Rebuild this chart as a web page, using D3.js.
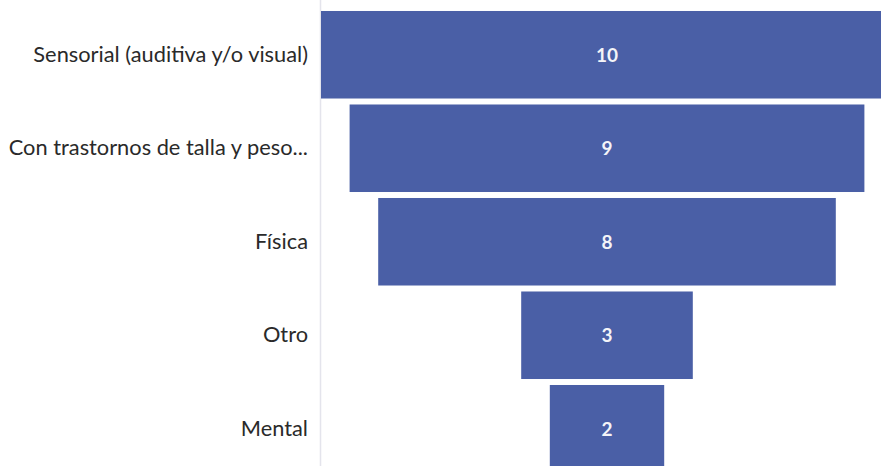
<!DOCTYPE html>
<html>
<head>
<meta charset="utf-8">
<script src="https://cdn.jsdelivr.net/npm/d3@7/dist/d3.min.js"></script>
<style>
  html, body { margin: 0; padding: 0; background: #ffffff; }
  svg { display: block; }
</style>
</head>
<body>
<svg id="chart" width="881" height="466"></svg>
<script>
const categories = [
  "Sensorial (auditiva y/o visual)",
  "Con trastornos de talla y peso...",
  "Física",
  "Otro",
  "Mental"
];
const values = [10, 9, 8, 3, 2];

const W = 881, H = 466;
const svg = d3.select("#chart");

const centerX = 607;
const unit = 57.2;
const maxV = d3.max(values);

// width scale: value -> bar width
const wScale = d3.scaleLinear().domain([0, maxV]).range([0, maxV * unit]);
const axisX = centerX - wScale(maxV) / 2;

const y = d3.scaleBand()
  .domain(categories)
  .range([8, 475.5])
  .paddingInner(0.064)
  .paddingOuter(0.032);

// faint vertical axis line
svg.append("line")
  .attr("x1", axisX - 0.5).attr("x2", axisX - 0.5)
  .attr("y1", 0).attr("y2", H)
  .attr("stroke", "#e4e4ec").attr("stroke-width", 1.5);

const data = categories.map((c, i) => ({ c, v: values[i] }));

svg.selectAll("rect.bar")
  .data(data)
  .join("rect")
  .attr("class", "bar")
  .attr("x", d => centerX - wScale(d.v) / 2)
  .attr("y", d => y(d.c))
  .attr("width", d => wScale(d.v))
  .attr("height", y.bandwidth())
  .attr("fill", "#4a5fa6");

svg.selectAll("text.val")
  .data(data)
  .join("text")
  .attr("class", "val")
  .attr("x", centerX)
  .attr("y", d => y(d.c) + y.bandwidth() / 2)
  .attr("dy", "0.38em")
  .attr("text-anchor", "middle")
  .attr("font-family", "Lato, 'Open Sans', sans-serif")
  .attr("font-weight", "bold")
  .attr("font-size", 19)
  .attr("fill", "#f4f4f8")
  .text(d => d.v);

// category axis labels
const yAxis = d3.axisLeft(y).tickSize(0).tickPadding(13);
const gAxis = svg.append("g")
  .attr("transform", `translate(${axisX},0)`)
  .call(yAxis);
gAxis.select(".domain").remove();
gAxis.selectAll("text")
  .attr("font-family", "Lato, 'Open Sans', sans-serif")
  .attr("font-size", 21.8)
  .attr("fill", "#2a2a2a");
</script>
</body>
</html>
